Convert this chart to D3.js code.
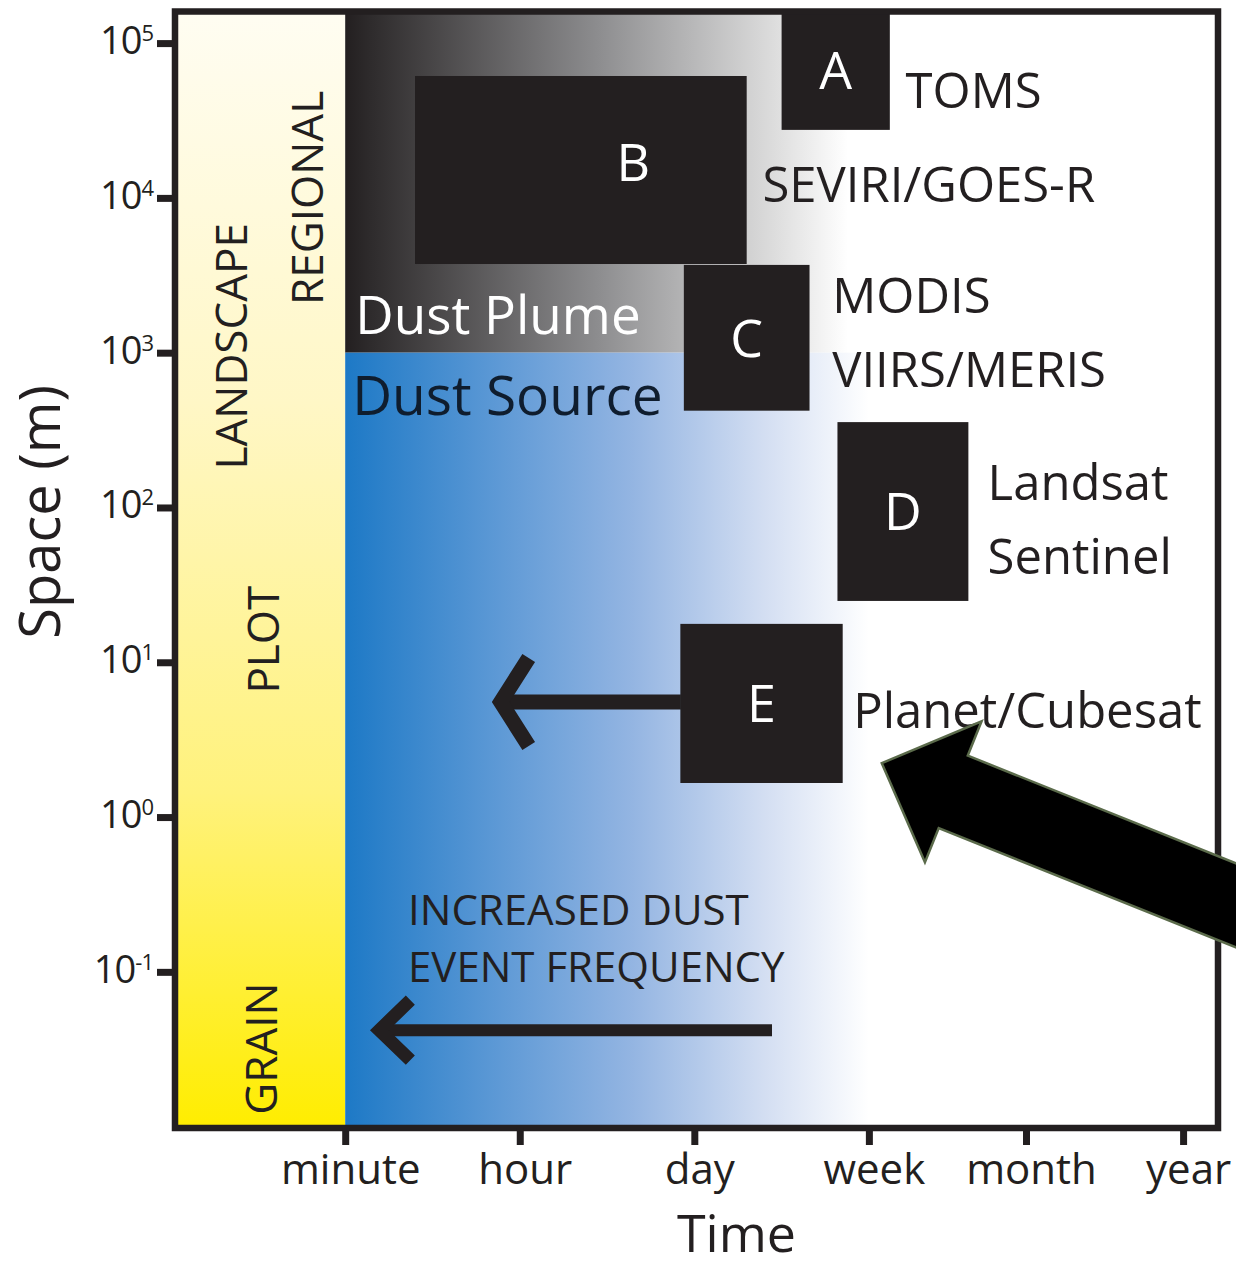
<!DOCTYPE html>
<html>
<head>
<meta charset="utf-8">
<script src="https://cdn.jsdelivr.net/npm/d3@7"></script>
<style>
  body { margin: 0; background: #fff; }
  svg { display: block; font-family: "Open Sans", "Noto Sans", sans-serif; }
</style>
</head>
<body>
<svg id="chart"></svg>
<script>
// space/time scales of dust observation platforms

// x axis: time categories on an ordinal-ish time index
const timeTicks = ["minute", "hour", "day", "week", "month", "year"];
const timeTickValues = [0, 1, 2, 3, 3.9, 4.8];

// y axis: space in metres (log)
const spaceTicks = [1e-1, 1e0, 1e1, 1e2, 1e3, 1e4, 1e5];

// sensor boxes (time index, metres)
const instruments = ["A", "B", "C", "D", "E"];
const timeFrom = [2.50, 0.40, 1.94, 2.82, 1.92];
const timeTo = [3.12, 2.30, 2.66, 3.57, 2.85];
const spaceLow = [2.75e4, 3.74e3, 422, 24.9, 1.66];
const spaceHigh = [1.6e5, 6.13e4, 3.69e3, 356, 17.7];
const sensorNames = [["TOMS"], ["SEVIRI/GOES-R"], ["MODIS", "VIIRS/MERIS"], ["Landsat", "Sentinel"], ["Planet/Cubesat"]];
const sensorTime = [3.21, 2.39, 2.79, 3.68, 2.91];
const sensorSpace = [3.8e4, 9.4e3, 1.8e3, 112, 3.76];

// scale names in the yellow column
const scaleNames = ["LANDSCAPE", "REGIONAL", "PLOT", "GRAIN"];
const scaleNameTime = [-0.56, -0.13, -0.38, -0.39];
const scaleNameSpace = [1.1e3, 1.0e4, 14, 0.032];

// plume / source split and fade-out
const plumeBoundary = 1e3;
const plumeFadeEnd = 2.88;
const sourceFadeEnd = 3.0;

// arrows: [time, space] of tail and tip
const frequencyArrow = { tail: [2.445, 0.042], tip: [0.142, 0.042] };
const planetArrow = { tail: [1.923, 5.54], tip: [0.84, 5.54] };
const bigArrow = { tail: [5.625, 0.156], tip: [3.074, 2.23] };

const width = 1236;
const height = 1268;
const frame = { left: 175, right: 1218, top: 11.5, bottom: 1128 };
const ink = "#231f20";

const x = d3.scaleLinear().domain([-0.975, 5]).range([frame.left, frame.right]);
const y = d3.scaleLog().domain([0.0098, 1.6e5]).range([frame.bottom, frame.top]);

const svg = d3.select("#chart")
  .attr("width", width)
  .attr("height", height);

const defs = svg.append("defs");

function gradient(id, vertical, stops) {
  const g = defs.append("linearGradient")
    .attr("id", id)
    .attr("x1", 0).attr("y1", 0)
    .attr("x2", vertical ? 0 : 1).attr("y2", vertical ? 1 : 0);
  g.selectAll("stop")
    .data(stops)
    .join("stop")
    .attr("offset", d => d[0])
    .attr("stop-color", d => d[1]);
}

gradient("yellow", true, [[0, "#fffdf2"], [0.35, "#fff7c6"], [0.7, "#fff27c"], [1, "#ffed00"]]);
gradient("plume", false, [[0, "#231f20"], [0.05, "#2e2b2c"], [0.5, "#8c8c8e"], [0.85, "#dcdcdc"], [1, "#ffffff"]]);
gradient("source", false, [[0, "#1d79c6"], [0.3, "#5f9ad6"], [0.55, "#94b5e2"], [0.8, "#d3def2"], [1, "#ffffff"]]);

// backgrounds
const bg = svg.append("g");
bg.append("rect")
  .attr("x", frame.left).attr("y", frame.top)
  .attr("width", x(0) - frame.left).attr("height", frame.bottom - frame.top)
  .attr("fill", "url(#yellow)");
bg.append("rect")
  .attr("x", x(0)).attr("y", frame.top)
  .attr("width", x(plumeFadeEnd) - x(0)).attr("height", y(plumeBoundary) - frame.top)
  .attr("fill", "url(#plume)");
bg.append("rect")
  .attr("x", x(0)).attr("y", y(plumeBoundary))
  .attr("width", x(sourceFadeEnd) - x(0)).attr("height", frame.bottom - y(plumeBoundary))
  .attr("fill", "url(#source)");

// region texts
svg.append("text")
  .attr("x", x(0) + 10).attr("y", y(plumeBoundary) - 19)
  .attr("font-size", 53).attr("fill", "#fff")
  .text("Dust Plume");
svg.append("text")
  .attr("x", x(0) + 7).attr("y", y(plumeBoundary) + 62)
  .attr("font-size", 55).attr("fill", "#0f1d2e")
  .text("Dust Source");

// scale names
svg.append("g")
  .selectAll("text")
  .data(scaleNames)
  .join("text")
  .attr("transform", (d, i) => `translate(${x(scaleNameTime[i])},${y(scaleNameSpace[i])}) rotate(-90)`)
  .attr("text-anchor", "middle")
  .attr("font-size", 44)
  .attr("fill", ink)
  .text(d => d);

// small arrows
function lineArrow(a, shaftW, headW, headLen, headHalf) {
  const x0 = x(a.tail[0]), x1 = x(a.tip[0]), yy = y(a.tip[1]);
  const g = svg.append("g").attr("stroke", ink).attr("fill", "none");
  const theta = Math.atan2(headHalf, headLen);
  const vx = x1 + (headW / 2) / Math.sin(theta);
  g.append("line")
    .attr("x1", x0).attr("x2", vx + 4)
    .attr("y1", yy).attr("y2", yy)
    .attr("stroke-width", shaftW);
  g.append("path")
    .attr("d", `M${vx + headLen},${yy - headHalf}L${vx},${yy}L${vx + headLen},${yy + headHalf}`)
    .attr("stroke-width", headW)
    .attr("stroke-linejoin", "miter")
    .attr("stroke-miterlimit", 10);
}
lineArrow(planetArrow, 15, 15, 28, 44);
lineArrow(frequencyArrow, 12, 13, 31, 30);

svg.append("text")
  .attr("x", x(0.36)).attr("y", y(0.2))
  .attr("font-size", 42).attr("fill", ink)
  .selectAll("tspan")
  .data(["INCREASED DUST", "EVENT FREQUENCY"])
  .join("tspan")
  .attr("x", x(0.36))
  .attr("dy", (d, i) => i ? 57 : 0)
  .text(d => d);

// sensor boxes
const boxes = svg.append("g")
  .selectAll("g")
  .data(instruments)
  .join("g");

boxes.append("rect")
  .attr("x", (d, i) => x(timeFrom[i]))
  .attr("y", (d, i) => y(spaceHigh[i]))
  .attr("width", (d, i) => x(timeTo[i]) - x(timeFrom[i]))
  .attr("height", (d, i) => y(spaceLow[i]) - y(spaceHigh[i]))
  .attr("fill", ink);

const letterAt = { B: [1.65, 1.7e4] };
boxes.append("text")
  .attr("x", (d, i) => letterAt[d] ? x(letterAt[d][0]) : (x(timeFrom[i]) + x(timeTo[i])) / 2)
  .attr("y", (d, i) => letterAt[d] ? y(letterAt[d][1]) : (y(spaceLow[i]) + y(spaceHigh[i])) / 2)
  .attr("dy", "0.36em")
  .attr("text-anchor", "middle")
  .attr("font-size", 52)
  .attr("fill", "#fff")
  .text(d => d);

boxes.append("text")
  .attr("font-size", 49)
  .attr("fill", ink)
  .selectAll("tspan")
  .data((d, i) => sensorNames[i].map(n => ({ n, i })))
  .join("tspan")
  .attr("x", d => x(sensorTime[d.i]))
  .attr("y", (d, j) => y(sensorSpace[d.i]) + j * 74)
  .text(d => d.n);

// frame
svg.append("rect")
  .attr("x", frame.left).attr("y", frame.top)
  .attr("width", frame.right - frame.left).attr("height", frame.bottom - frame.top)
  .attr("fill", "none")
  .attr("stroke", ink)
  .attr("stroke-width", 6.5);

// axes
const yAxis = svg.append("g")
  .attr("transform", `translate(${frame.left},0)`)
  .call(d3.axisLeft(y).tickValues(spaceTicks).tickSize(18).tickFormat(""));
yAxis.select(".domain").remove();
yAxis.selectAll(".tick line").attr("stroke", ink).attr("stroke-width", 7);

const yLabels = svg.append("g")
  .selectAll("text")
  .data(spaceTicks)
  .join("text")
  .attr("x", frame.left - 22)
  .attr("y", d => y(d) + 11)
  .attr("text-anchor", "end")
  .attr("font-size", 38)
  .attr("letter-spacing", -1)
  .attr("fill", ink);
yLabels.append("tspan").text("10");
yLabels.append("tspan")
  .attr("dy", -13)
  .attr("font-size", 22)
  .text(d => Math.round(Math.log10(d)));

const xAxis = svg.append("g")
  .attr("transform", `translate(0,${frame.bottom})`)
  .call(d3.axisBottom(x).tickValues(timeTickValues).tickSize(17).tickPadding(9)
    .tickFormat((d, i) => timeTicks[i]));
xAxis.select(".domain").remove();
xAxis.selectAll(".tick line").attr("stroke", ink).attr("stroke-width", 7);
xAxis.selectAll(".tick text")
  .attr("dx", 5)
  .attr("font-size", 42)
  .attr("fill", ink);
xAxis.attr("font-family", null);

svg.append("text")
  .attr("x", (frame.left + frame.right) / 2 + 40)
  .attr("y", 1252)
  .attr("text-anchor", "middle")
  .attr("font-size", 52)
  .attr("fill", ink)
  .text("Time");

svg.append("text")
  .attr("transform", `translate(60,${(frame.top + frame.bottom) / 2 - 58}) rotate(-90)`)
  .attr("text-anchor", "middle")
  .attr("font-size", 56)
  .attr("fill", ink)
  .text("Space (m)");

// big pointer arrow
function blockArrow(a, shaftW, headW, headLen) {
  const tx = x(a.tip[0]), ty = y(a.tip[1]);
  const ex = x(a.tail[0]), ey = y(a.tail[1]);
  const len = Math.hypot(ex - tx, ey - ty);
  const ux = (ex - tx) / len, uy = (ey - ty) / len;
  const nx = -uy, ny = ux;
  const bx = tx + ux * headLen, by = ty + uy * headLen;
  const pts = [
    [tx, ty],
    [bx + nx * headW / 2, by + ny * headW / 2],
    [bx + nx * shaftW / 2, by + ny * shaftW / 2],
    [ex + nx * shaftW / 2, ey + ny * shaftW / 2],
    [ex - nx * shaftW / 2, ey - ny * shaftW / 2],
    [bx - nx * shaftW / 2, by - ny * shaftW / 2],
    [bx - nx * headW / 2, by - ny * headW / 2]
  ];
  svg.append("path")
    .attr("d", d3.line()(pts) + "Z")
    .attr("fill", "#000")
    .attr("stroke", "#5b6b4b")
    .attr("stroke-width", 2.5)
    .attr("stroke-linejoin", "miter");
}
blockArrow(bigArrow, 78, 152, 77);
</script>
</body>
</html>
